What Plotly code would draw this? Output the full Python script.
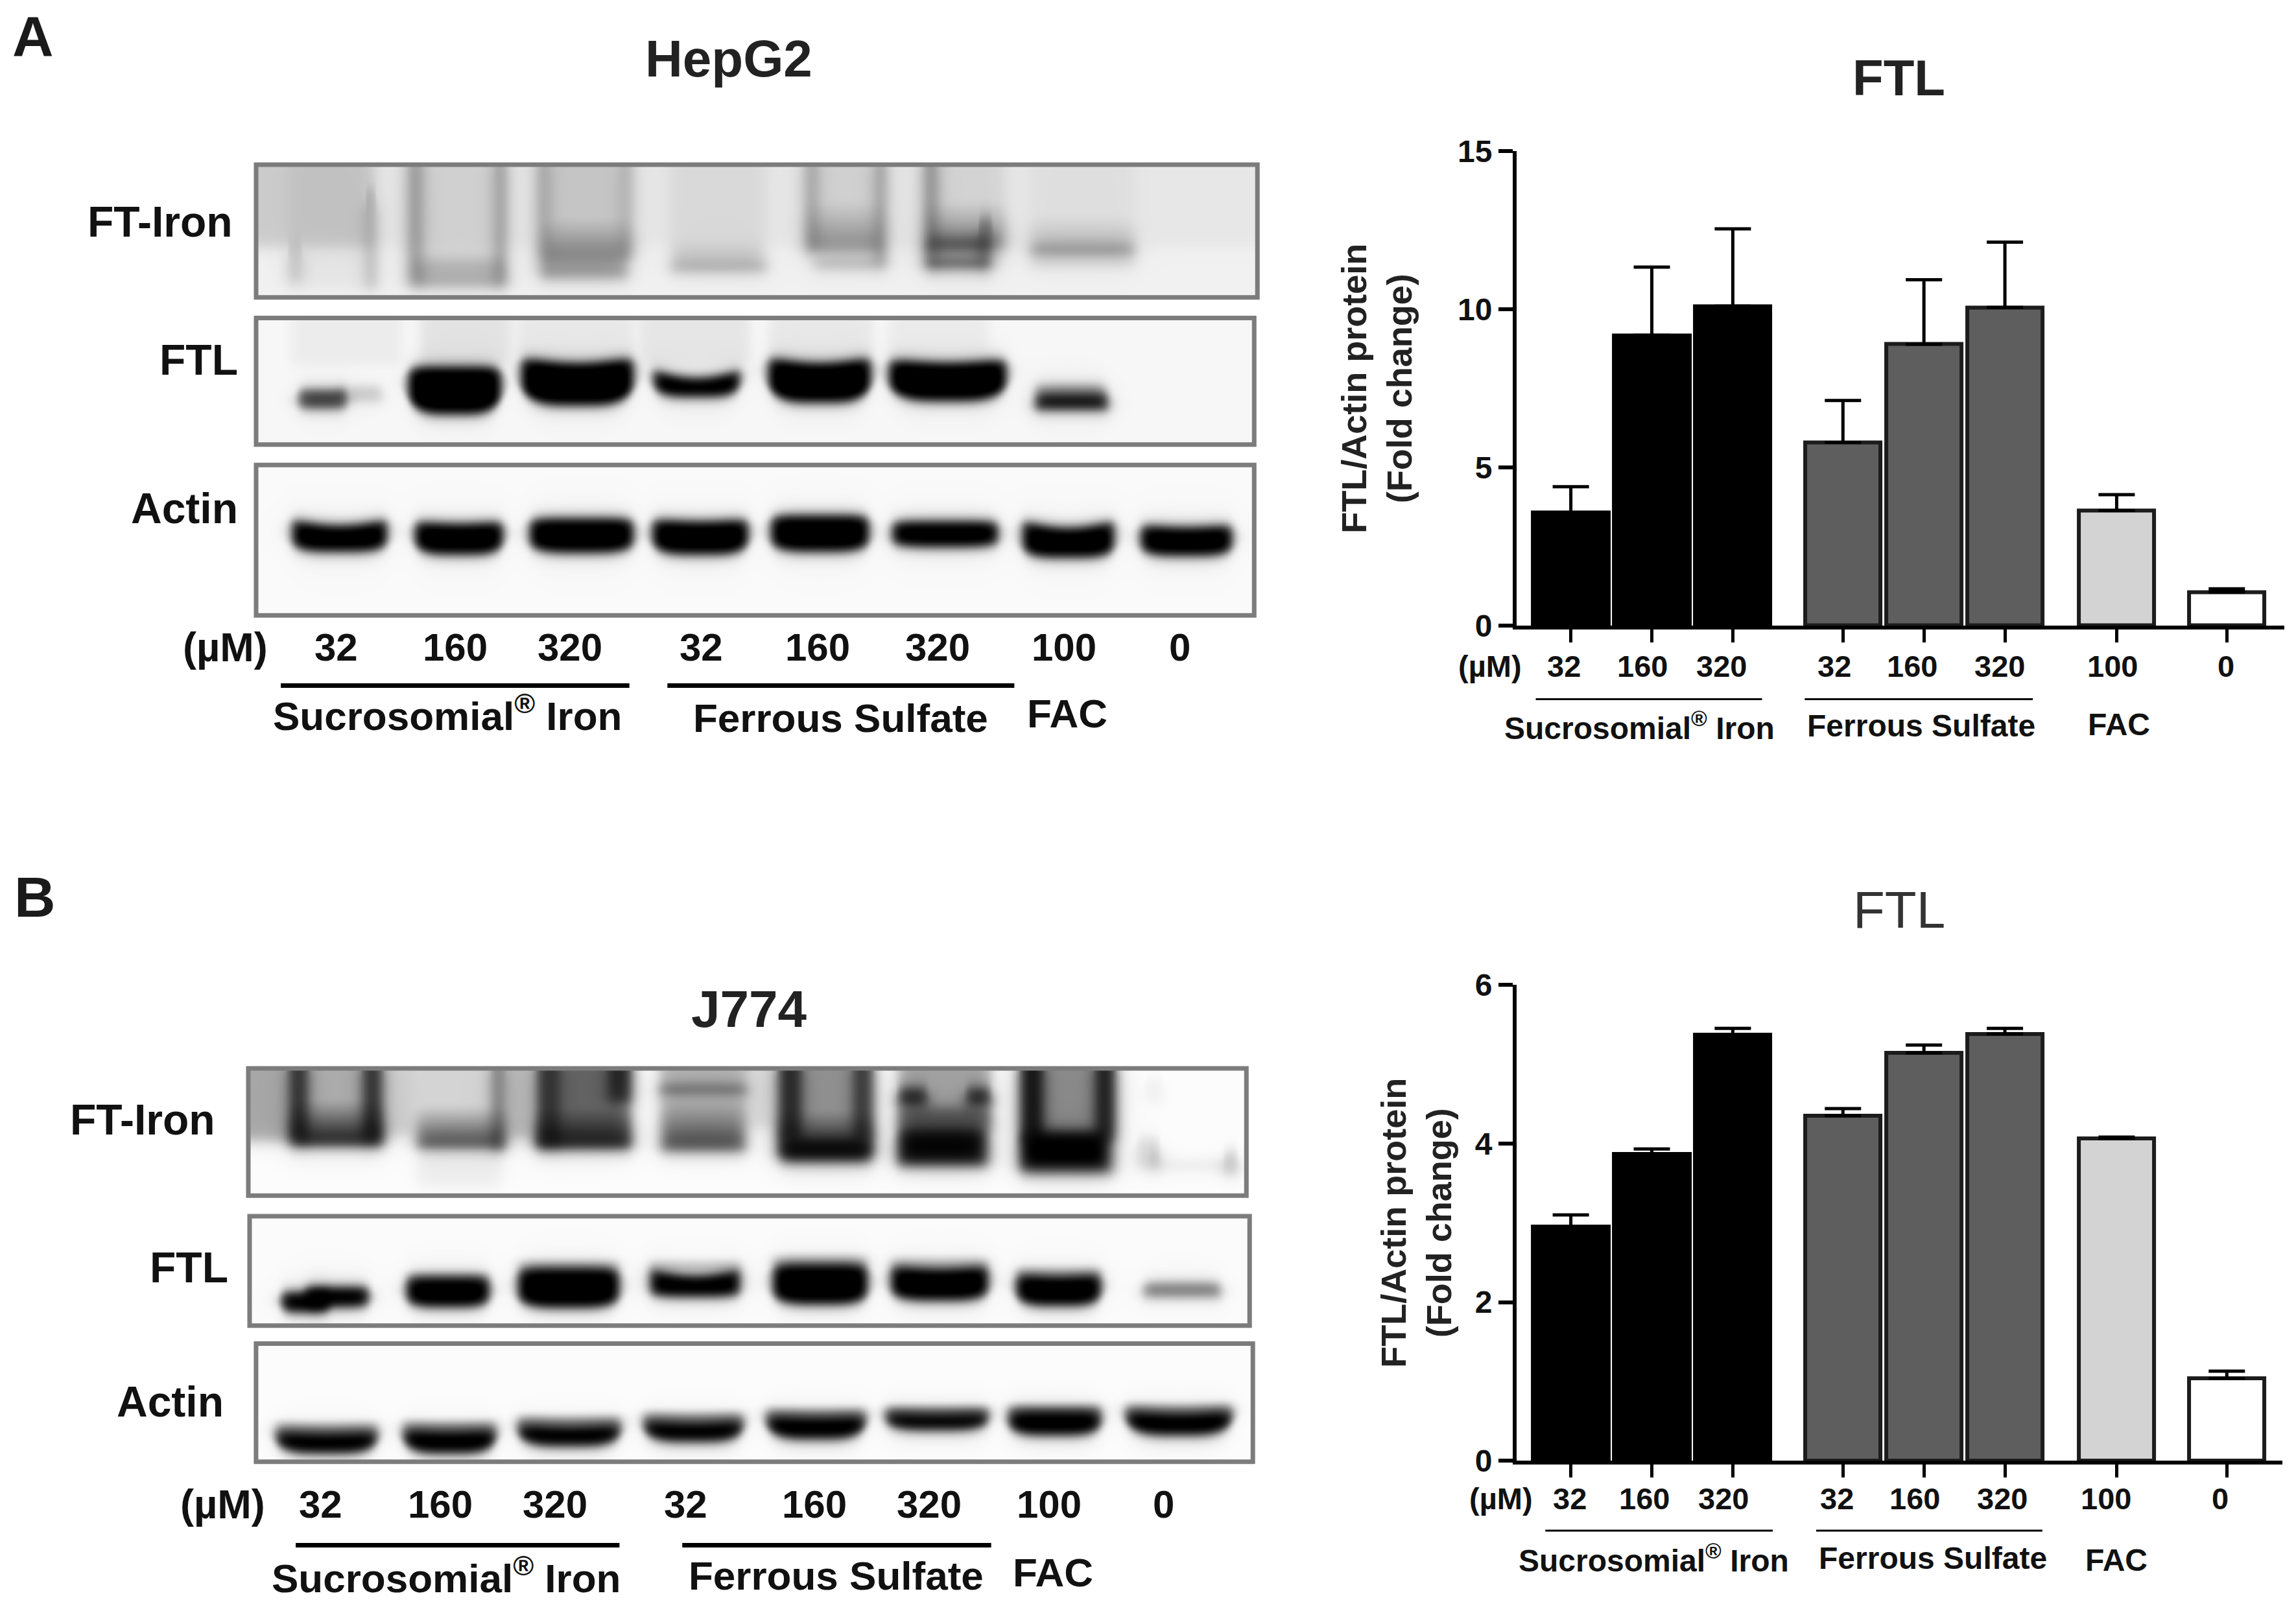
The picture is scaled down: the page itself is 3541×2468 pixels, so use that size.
import numpy as np
import plotly.graph_objects as go

W, H = 3541, 2468
FONT = "Liberation Sans"

# ---------- chart data ----------
conc_labels = ["32", "160", "320", "32", "160", "320", "100", "0"]
group_labels = ["Sucrosomial<sup>®</sup> Iron", "Ferrous Sulfate", "FAC"]
slots = [0, 1, 2, 3.36, 4.36, 5.36, 6.74, 8.10]
fill_colors = ["#000000"] * 3 + ["#5e5e5e"] * 3 + ["#d3d3d3", "#ffffff"]
edge_colors = ["#000000"] * 3 + ["#1c1c1c"] * 5

ftl_hepg2 = [3.57, 9.18, 10.1, 5.79, 8.9, 10.06, 3.64, 1.06]
ftl_hepg2_err = [0.82, 2.16, 2.45, 1.33, 2.04, 2.07, 0.50, 0.10]
ftl_j774 = [2.95, 3.87, 5.37, 4.35, 5.14, 5.38, 4.06, 1.04]
ftl_j774_err = [0.15, 0.06, 0.08, 0.09, 0.10, 0.07, 0.02, 0.09]


# crop-space to page-space helpers
def ax_(v): return v / 0.785
def ay_(v): return v / 1.307
def by_(v): return 1300 + v / 1.343
def cx_(v): return 2000 + v / 1.0175
def cay(v): return 50 + v / 1.363
def cby(v): return 1350 + v / 1.4025


# blot crops
def gax(v): return 390 + v / 1.005
def gay(v): return 245 + v / 2.208
def gbx(v): return 375 + v / 1.005
def gby(v): return 1640 + v / 2.513


# ---------- blot contents: (x0, x1, y0, y1, darkness, horn, fade, bowl) ----------
hep_iron = [
    (-60, 1700, -60, 300, .035, 0, 0, 0),
    (-60, 185, -60, 300, .10, 0, 0, 0), (55, 190, -60, 440, .04, 0, 0, 0),
    (55, 75, 290, 420, .16, 0, 0, 0), (175, 190, 100, 440, .20, 0, 0, 0),
    (240, 390, -60, 430, .08, 0, 0, .0), (240, 262, -60, 430, .28, 0, 0, 0), (375, 392, -60, 430, .28, 0, 0, 0),
    (250, 390, 340, 430, .16, 0, 0, 0), (250, 390, 410, 432, .12, 0, 0, 0),
    (440, 585, -60, 340, .12, 0, 0, 0), (440, 460, -60, 400, .18, 0, 0, 0), (570, 588, -60, 320, .14, 0, 0, 0),
    (450, 585, 190, 345, .38, 0, 1, 0), (450, 580, 350, 405, .36, 0, 0, 0),
    (645, 795, -60, 380, .05, 0, 0, 0), (650, 790, 300, 345, .10, 0, 0, 0), (648, 795, 350, 380, .28, 0, 0, 0),
    (855, 980, -60, 340, .08, 0, 0, 0), (855, 875, -60, 310, .22, 0, 0, 0), (965, 980, -60, 360, .28, 0, 0, 0),
    (860, 975, 130, 310, .32, 0, 1, 0), (870, 980, 345, 368, .28, 0, 0, 0),
    (1040, 1165, -60, 340, .07, 0, 0, 0), (1040, 1060, -60, 370, .34, 0, 0, 0), (1125, 1145, 200, 370, .38, 0, 0, 0),
    (1045, 1165, 130, 300, .38, 0, 1, 0), (1045, 1140, 340, 368, .72, 0, 0, 0), (1045, 1140, 270, 320, .42, 0, 0, 0),
    (1205, 1365, -60, 320, .03, 0, 0, 0), (1205, 1365, 180, 320, .18, 0, 1, 0), (1205, 1365, 295, 325, .28, 0, 0, 0),
    (1205, 1365, 335, 365, .10, 0, 0, 0),
]
hep_ftl = [
    (60, 230, 480, 700, .04, 0, 0, 0), (260, 400, 480, 700, .07, 0, 0, 0), (410, 590, 480, 680, .05, 0, 0, 0),
    (600, 770, 480, 700, .06, 0, 0, 0), (800, 960, 480, 680, .05, 0, 0, 0), (985, 1140, 480, 680, .04, 0, 0, 0),
    (70, 145, 785, 850, .72, 0, 0, .1), (130, 200, 775, 825, .18, 0, 0, 0),
    (240, 385, 705, 870, 1, 0, 0, .3), (415, 590, 668, 840, 1, 24, 0, .3), (620, 755, 712, 810, 1, 32, 0, .3),
    (798, 958, 668, 830, 1, 24, 0, .3), (985, 1168, 675, 825, 1, 16, 0, .3),
    (1212, 1325, 795, 855, .90, 0, 0, 0), (1212, 1320, 770, 800, .35, 0, 0, 0),
]
hep_actin = [
    (60, 208, 1222, 1338, 1, 24, 0, .2), (250, 388, 1230, 1348, 1, 10, 0, .25), (428, 590, 1222, 1342, 1, 0, 0, .2),
    (618, 768, 1222, 1348, 1, 10, 0, .25), (802, 955, 1212, 1338, 1, 0, 0, .2), (990, 1155, 1232, 1322, 1, 0, 0, .15),
    (1192, 1335, 1226, 1358, 1, 28, 0, .2), (1375, 1518, 1242, 1352, 1, 10, 0, .2),
]
j774_iron = [
    (-60, 70, -60, 300, .30, 0, 0, 0), (215, 265, -60, 280, .16, 0, 0, 0), (405, 450, -60, 290, .24, 0, 0, 0),
    (780, 830, -60, 250, .12, 0, 0, 0),
    (70, 215, -60, 315, .28, 0, 0, 0), (70, 100, -60, 300, .72, 0, 0, 0), (185, 215, -60, 300, .72, 0, 0, 0),
    (75, 215, 130, 315, .90, 0, 1, 0),
    (265, 405, -60, 325, .14, 0, 0, 0), (270, 405, 150, 325, .70, 0, 1, 0), (385, 405, -60, 335, .42, 0, 0, 0),
    (270, 400, 330, 480, .05, 0, 0, 0),
    (455, 600, -60, 330, .55, 0, 0, 0), (455, 600, 160, 320, .85, 0, 1, 0), (455, 490, -60, 320, .50, 0, 0, 0),
    (565, 600, -60, 150, .65, 0, 0, 0),
    (645, 780, -60, 345, .26, 0, 0, 0), (645, 780, 85, 115, .50, 0, 0, 0), (650, 775, 130, 330, .65, 0, 1, 0),
    (830, 975, -60, 380, .38, 0, 0, 0), (830, 865, -60, 300, .72, 0, 0, 0), (945, 975, -60, 300, .62, 0, 0, 0),
    (830, 975, 170, 350, .88, 0, 1, 0), (835, 970, 300, 375, .80, 0, 0, 0),
    (1015, 1158, -60, 400, .32, 0, 0, 0), (1015, 1060, 95, 165, .82, 0, 0, 0), (1120, 1158, 95, 165, .82, 0, 0, 0),
    (1015, 1158, 170, 270, .45, 0, 0, 0), (1015, 1150, 250, 390, .92, 0, 0, 0),
    (1205, 1350, -60, 430, .40, 0, 0, 0), (1205, 1240, -60, 300, .85, 0, 0, 0), (1320, 1350, -60, 300, .80, 0, 0, 0),
    (1205, 1340, 260, 410, .97, 0, 0, 0),
    (1385, 1420, 290, 410, .14, 0, 0, 0), (1405, 1420, 340, 410, .16, 0, 0, 0), (1420, 1540, 380, 410, .08, 0, 0, 0),
    (1520, 1540, 340, 430, .22, 0, 0, 0), (1400, 1425, 60, 150, .05, 0, 0, 0),
]
j774_ftl = [
    (58, 135, 885, 965, 1, 0, 0, .2), (95, 195, 865, 945, 1, 0, 0, .15), (252, 382, 825, 945, 1, 0, 0, .2),
    (425, 583, 790, 948, 1, 0, 0, .2), (630, 770, 790, 905, 1, 30, 0, .1), (820, 968, 775, 935, 1, 0, 0, .2),
    (1003, 1155, 778, 920, 1, 14, 0, .2), (1197, 1330, 810, 940, 1, 10, 0, .25), (1395, 1515, 850, 905, .50, 0, 0, 0),
    (252, 382, 790, 830, .22, 0, 1, 0), (425, 583, 740, 795, .25, 0, 1, 0), (630, 770, 740, 795, .25, 0, 1, 0),
    (820, 968, 720, 780, .30, 0, 1, 0), (1003, 1155, 730, 785, .25, 0, 1, 0), (1197, 1330, 770, 815, .25, 0, 1, 0),
]
j774_actin = [
    (50, 208, 1420, 1512, 1, 8, 0, .42), (247, 392, 1412, 1512, 1, 8, 0, .42), (425, 585, 1392, 1484, 1, 10, 0, .42),
    (620, 775, 1376, 1467, 1, 10, 0, .42), (810, 965, 1358, 1457, 1, 8, 0, .45), (995, 1155, 1346, 1422, 1, 6, 0, .35),
    (1185, 1330, 1342, 1442, 1, 0, 0, .32), (1367, 1533, 1338, 1442, 1, 12, 0, .45),
    (50, 208, 1365, 1430, .55, 16, 1, 0), (247, 392, 1360, 1420, .55, 14, 1, 0), (425, 585, 1340, 1400, .55, 16, 1, 0),
    (620, 775, 1325, 1385, .55, 16, 1, 0), (810, 965, 1310, 1368, .55, 14, 1, 0), (995, 1155, 1305, 1355, .55, 8, 1, 0),
    (1185, 1330, 1300, 1350, .50, 8, 1, 0), (1367, 1533, 1295, 1348, .50, 18, 1, 0),
]

# (bands, x-mapper, y-mapper, frame x0, x1, y0, y1, background, edge softness)
blots = [
    (hep_iron, gax, gay, 5, 1557, 20, 472, .055, 6.5),
    (hep_ftl, gax, gay, 5, 1552, 542, 973, .03, 5),
    (hep_actin, gax, gay, 5, 1552, 1043, 1555, .02, 5),
    (j774_iron, gbx, gby, 8, 1555, 20, 513, .01, 6),
    (j774_ftl, gbx, gby, 10, 1560, 593, 1017, .015, 5),
    (j774_actin, gbx, gby, 20, 1565, 1087, 1545, .01, 5),
]


def logistic(v):
    return 1 / (1 + np.exp(-np.clip(v, -30, 30)))


def blot_image(bands, xmap, ymap, fx0, fx1, fy0, fy1, bg, soft):
    x = np.arange(xmap(fx0), xmap(fx1), 2.5)
    y = np.arange(ymap(fy0), ymap(fy1), 2.5)
    X, Y = np.meshgrid(x, y)
    keep = np.ones_like(X)
    for b in bands:
        x0, x1, t, u, dark = xmap(b[0]), xmap(b[1]), ymap(b[2]), ymap(b[3]), b[4]
        horn = ymap(b[2] + b[5]) - t
        c, half = (x0 + x1) / 2, (x1 - x0) / 2
        r = np.clip((X - c) / half, -1.2, 1.2)
        h = u - t
        top = t + horn * (1 - r ** 2) + min(.10 * h, 9) * r ** 6
        bot = u - b[7] * h * r ** 4
        grad = np.clip((Y - t) / h, 0, 1) ** 1.3 if b[6] else 1
        for s, k in ((soft, 1.0), (16, .09)):
            d = logistic((X - x0) / s) * logistic((x1 - X) / s) * logistic((Y - top) / s) * logistic((bot - Y) / s)
            keep *= 1 - np.clip(d * dark * k * (1.06 if k == 1 else 1) * grad, 0, 1)
    return x, y, np.round(np.clip(1 - keep + bg, 0, 1), 3)


fig = go.Figure()
annotations, shapes = [], []


def text(s, x, y, size, anchor="center", weight=700, color="#111111"):
    annotations.append(dict(text=s, x=x, y=y, xref="x3", yref="y3", showarrow=False, xanchor=anchor,
                            yanchor="middle", font=dict(family=FONT, size=size, color=color, weight=weight)))


def rule(x0, x1, y, width):
    shapes.append(dict(type="line", xref="x3", yref="y3", x0=x0, x1=x1, y0=y, y1=y,
                       line=dict(color="#000000", width=width)))


# ---------- blots ----------
for bands, xmap, ymap, fx0, fx1, fy0, fy1, bg, soft in blots:
    xs, ys, zs = blot_image(bands, xmap, ymap, fx0, fx1, fy0, fy1, bg, soft)
    fig.add_trace(go.Heatmap(x=xs, y=ys, z=zs, xaxis="x3", yaxis="y3", zmin=0, zmax=1, showscale=False,
                             zsmooth="best", hoverinfo="skip",
                             colorscale=[[0, "#ffffff"], [1, "#000000"]]))
    shapes.append(dict(type="rect", xref="x3", yref="y3", x0=xmap(fx0), x1=xmap(fx1), y0=ymap(fy0), y1=ymap(fy1),
                       line=dict(color="#7c7c7c", width=7), fillcolor="rgba(0,0,0,0)"))

# ---------- blot labels ----------
text("A", ax_(40), ay_(72), 88, color="#1a1a1a")
text("B", ax_(42), by_(112), 88, color="#1a1a1a")
text("HepG2", ax_(882), ay_(118), 80, color="#222222")
text("J774", ax_(907), by_(345), 80, color="#222222")

for s, xr, yc in (("FT-Iron", 283, 447), ("FTL", 290, 725), ("Actin", 290, 1025)):
    text(s, ax_(xr), ay_(yc), 66, anchor="right")
for s, xr, yc in (("FT-Iron", 262, 573), ("FTL", 278, 880), ("Actin", 272, 1158)):
    text(s, ax_(xr), by_(yc), 66, anchor="right")

a_lane_x = [407, 551, 690, 849, 990, 1135, 1288, 1428]
b_lane_x = [388, 533, 672, 830, 986, 1125, 1270, 1409]
text("(µM)", ax_(273), ay_(1305), 63)
text("(µM)", ax_(270), by_(1370), 63)
for lab, xa, xb in zip(conc_labels, a_lane_x, b_lane_x):
    text(lab, ax_(xa), ay_(1305), 60)
    text(lab, ax_(xb), by_(1370), 60)
rule(ax_(340), ax_(762), ay_(1382), 7)
rule(ax_(808), ax_(1228), ay_(1382), 7)
rule(ax_(358), ax_(750), by_(1455), 7)
rule(ax_(826), ax_(1200), by_(1455), 7)
for lab, xc, yc in zip(group_labels, (542, 1018, 1292), (1438, 1448, 1438)):
    text(lab, ax_(xc), ay_(yc), 62)
for lab, xc, yc in zip(group_labels, (540, 1012, 1275), (1518, 1518, 1512)):
    text(lab, ax_(xc), by_(yc), 62)

# ---------- bar charts ----------
text("FTL", cx_(945), cay(95), 78, color="#222222")
text("FTL", cx_(945), cby(75), 80, weight=400, color="#333333")


def bars(values, errors, xa, ya):
    fig.add_trace(go.Bar(x=slots, y=values, xaxis=xa, yaxis=ya, width=.93, showlegend=False, hoverinfo="skip",
                         marker=dict(color=fill_colors, line=dict(color=edge_colors, width=6)),
                         error_y=dict(type="data", symmetric=False, array=errors,
                                      arrayminus=[0] * len(errors), color="#000000", thickness=5, width=28)))


bars(ftl_hepg2, ftl_hepg2_err, "x", "y")
bars(ftl_j774, ftl_j774_err, "x2", "y2")

a_tick_x = [419, 542, 666, 843, 966, 1103, 1280, 1458]
b_tick_x = [428, 545, 670, 848, 970, 1107, 1270, 1449]
text("(µM)", cx_(303), cay(1332), 47)
text("(µM)", cx_(321), cby(1348), 47)
for lab, xa, xb in zip(conc_labels, a_tick_x, b_tick_x):
    text(lab, cx_(xa), cay(1332), 47)
    text(lab, cx_(xb), cby(1348), 47)
rule(cx_(375), cx_(730), cay(1402), 3)
rule(cx_(797), cx_(1155), cay(1402), 3)
rule(cx_(390), cx_(747), cby(1418), 3)
rule(cx_(815), cx_(1170), cby(1418), 3)
for lab, xc, yc in zip(group_labels, (538, 980, 1290), (1458, 1458, 1455)):
    text(lab, cx_(xc), cay(yc), 48)
for lab, xc, yc in zip(group_labels, (560, 998, 1286), (1478, 1477, 1482)):
    text(lab, cx_(xc), cby(yc), 48)

unit = 124.9
y_title = "FTL/Actin protein<br>(Fold change)"


def x_axis(left, right):
    return dict(domain=[left / W, right / W], range=[(left - cx_(430)) / unit, (right - cx_(430)) / unit],
                tickmode="array", tickvals=slots, ticks="outside", ticklen=20, tickwidth=5, tickcolor="#000000",
                showticklabels=False, showline=True, linewidth=6, linecolor="#000000", showgrid=False,
                zeroline=False, automargin=False)


def y_axis(top, bottom, ymax, vals, standoff):
    return dict(domain=[1 - bottom / H, 1 - top / H], range=[0, ymax], tickmode="array", tickvals=vals,
                ticks="outside", ticklen=22, tickwidth=6, tickcolor="#000000", showline=True, linewidth=6,
                linecolor="#000000", showgrid=False, zeroline=False, automargin=False,
                tickfont=dict(family=FONT, size=48, color="#111111", weight=700),
                title=dict(text=y_title, standoff=standoff,
                           font=dict(family=FONT, size=54, color="#222222", weight=700)))


fig.update_layout(
    template="none",
    width=W, height=H, margin=dict(l=0, r=0, t=0, b=0), autosize=False,
    paper_bgcolor="#ffffff", plot_bgcolor="rgba(0,0,0,0)", showlegend=False, bargap=0,
    xaxis=dict(x_axis(cx_(345), cx_(1550)), anchor="y"),
    yaxis=dict(y_axis(cay(250), cay(1247), 15, [0, 5, 10, 15], 55), anchor="x"),
    xaxis2=dict(x_axis(cx_(345), cx_(1547)), anchor="y2"),
    yaxis2=dict(y_axis(cby(237), cby(1267), 6, [0, 2, 4, 6], 21), anchor="x2"),
    xaxis3=dict(domain=[0, 1], range=[0, W], visible=False, fixedrange=True, anchor="y3", automargin=False),
    yaxis3=dict(domain=[0, 1], range=[H, 0], visible=False, fixedrange=True, anchor="x3", automargin=False),
    annotations=annotations, shapes=shapes,
)

fig.write_html("out.html", config=dict(displayModeBar=False),
               post_script="document.body.style.margin='0';")
